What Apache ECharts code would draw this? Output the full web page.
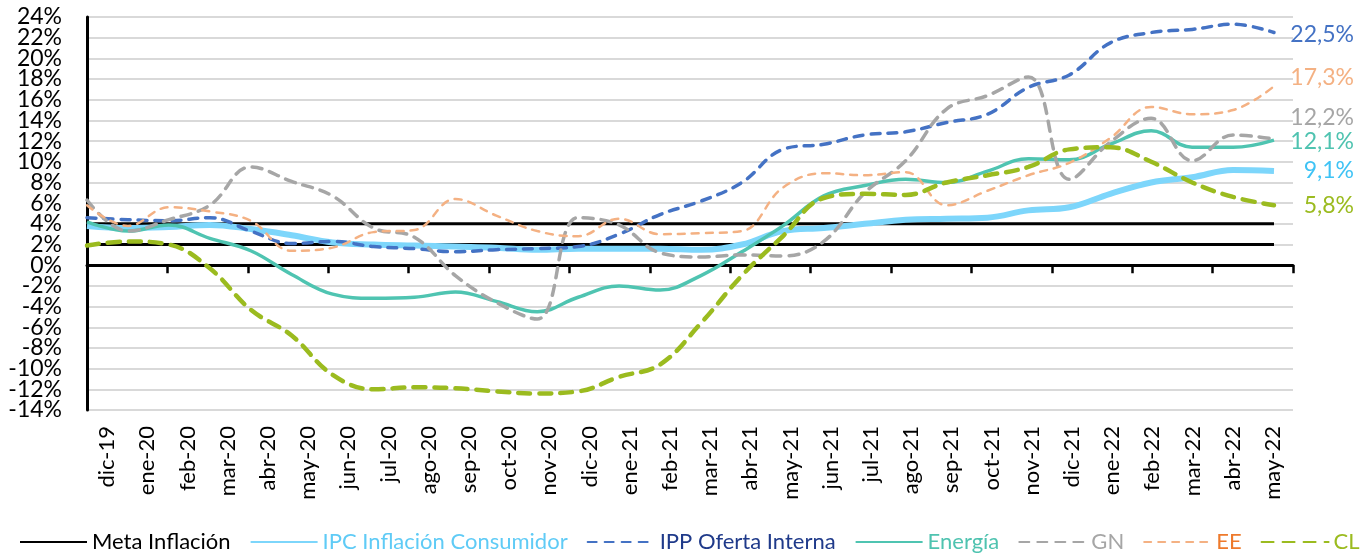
<!DOCTYPE html>
<html>
<head>
<meta charset="utf-8">
<script src="https://cdn.jsdelivr.net/npm/echarts@6/dist/echarts.min.js"></script>
<style>
  html, body { margin: 0; padding: 0; background: #fff; }
  #chart { width: 1371px; height: 553px; }
</style>
</head>
<body>
<div id="chart"></div>
<script>
var months = ['dic-19', 'ene-20', 'feb-20', 'mar-20', 'abr-20', 'may-20', 'jun-20', 'jul-20', 'ago-20', 'sep-20',
    'oct-20', 'nov-20', 'dic-20', 'ene-21', 'feb-21', 'mar-21', 'abr-21', 'may-21', 'jun-21', 'jul-21',
    'ago-21', 'sep-21', 'oct-21', 'nov-21', 'dic-21', 'ene-22', 'feb-22', 'mar-22', 'abr-22', 'may-22'];

// meta de inflación: banda 2% - 4%
var metaBaja = [2, 2, 2, 2, 2, 2, 2, 2, 2, 2, 2, 2, 2, 2, 2, 2, 2, 2, 2, 2, 2, 2, 2, 2, 2, 2, 2, 2, 2, 2];
var metaAlta = [4, 4, 4, 4, 4, 4, 4, 4, 4, 4, 4, 4, 4, 4, 4, 4, 4, 4, 4, 4, 4, 4, 4, 4, 4, 4, 4, 4, 4, 4];

var ipc = [3.8, 3.6, 3.7, 3.9, 3.5, 2.9, 2.2, 2.0, 1.9, 1.8, 1.7, 1.5, 1.6, 1.6, 1.6, 1.5, 2.0, 3.3, 3.6, 4.0,
    4.4, 4.5, 4.6, 5.3, 5.6, 6.9, 8.0, 8.5, 9.2, 9.1];
var ipp = [4.6, 4.4, 4.3, 4.6, 3.3, 2.1, 2.3, 1.8, 1.6, 1.3, 1.5, 1.6, 1.8, 3.0, 4.9, 6.2, 8.0, 11.2, 11.7, 12.6,
    12.9, 13.8, 14.6, 17.2, 18.4, 21.5, 22.5, 22.8, 23.3, 22.5];
var energia = [4.2, 3.3, 3.9, 2.6, 1.4, -0.9, -2.8, -3.2, -3.1, -2.6, -3.5, -4.5, -3.1, -2.0, -2.4, -1.0, 1.3, 3.8, 6.7, 7.7,
    8.3, 8.0, 9.1, 10.3, 10.2, 11.7, 13.0, 11.4, 11.4, 12.1];
var gn = [6.3, 3.3, 4.4, 5.8, 9.5, 8.1, 6.7, 3.6, 2.7, -1.0, -3.6, -5.2, 4.6, 3.9, 1.2, 0.8, 1.0, 0.9, 2.3, 7.0,
    10.1, 15.1, 16.4, 18.2, 8.3, 11.9, 14.2, 10.1, 12.6, 12.2];
var ee = [5.8, 3.8, 5.6, 5.2, 4.3, 1.4, 1.7, 3.2, 3.4, 6.4, 4.8, 3.3, 2.8, 4.5, 3.0, 3.1, 3.3, 7.5, 8.9, 8.7,
    9.0, 5.8, 7.2, 8.7, 9.9, 12.3, 15.3, 14.6, 15.0, 17.3];
var cl = [1.9, 2.3, 2.0, -0.3, -4.3, -6.8, -10.6, -12.0, -11.8, -11.9, -12.2, -12.4, -12.2, -10.8, -9.6, -5.6, -1.0, 2.8, 6.5, 6.9,
    6.8, 8.0, 8.7, 9.5, 11.2, 11.4, 10.0, 8.0, 6.6, 5.8];

// extremos del eje y, rotulados aparte para que no se oculten
var extremosY = [-14, 24];

var fuente = 'Lato';

function etiquetaFinal(color, dy) {
    return {
        show: true,
        formatter: function (p) { return p.value.toFixed(1).replace('.', ',') + '%'; },
        color: color,
        fontFamily: fuente,
        fontSize: 23,
        align: 'right',
        distance: 5,
        offset: [75, dy]
    };
}

function serie(nombre, datos, color, ancho, tipo, etiqueta) {
    return {
        name: nombre,
        type: 'line',
        xAxisIndex: 2,
        yAxisIndex: 1,
        data: datos,
        smooth: 0.4,
        symbol: 'none',
        lineStyle: { color: color, width: ancho, type: tipo, cap: tipo === 'solid' ? 'butt' : 'round' },
        itemStyle: { color: color },
        endLabel: etiqueta,
        emphasis: { disabled: true }
    };
}

var chart = echarts.init(document.getElementById('chart'));

var estiloEtiquetaY = { formatter: '{value}%', margin: 25, color: '#000', fontFamily: fuente, fontSize: 23 };

var option = {
    backgroundColor: '#fff',
    animation: false,
    textStyle: { fontFamily: fuente },
    grid: [
        { left: 87, right: 78, top: 17, bottom: 143 },
        { left: 87, right: 97, top: 17, bottom: 143 }
    ],
    legend: {
        left: 14,
        top: 526,
        itemWidth: 67,
        itemHeight: 14,
        itemGap: 19,
        itemStyle: { opacity: 0 },
        textStyle: { fontFamily: fuente, fontSize: 22 },
        data: [
            { name: 'Meta Inflación', textStyle: { color: '#000000' } },
            { name: 'IPC Inflación Consumidor', textStyle: { color: '#5fcbf6' } },
            { name: 'IPP Oferta Interna', textStyle: { color: '#1f3a8a' } },
            { name: 'Energía', textStyle: { color: '#4fc3b0' } },
            { name: 'GN', textStyle: { color: '#a6a6a6' } },
            { name: 'EE', textStyle: { color: '#ee7a2c' } },
            { name: 'CL', textStyle: { color: '#9bbb1f' } }
        ]
    },
    xAxis: [
        {
            gridIndex: 0,
            type: 'category',
            data: months,
            position: 'top',
            boundaryGap: true,
            axisLine: { onZero: true, lineStyle: { color: '#000', width: 3 } },
            axisTick: { show: true, inside: true, length: 8, lineStyle: { color: '#000', width: 2.5 } },
            axisLabel: { show: false },
            splitLine: { show: false }
        },
        {
            gridIndex: 0,
            type: 'category',
            data: months,
            position: 'bottom',
            boundaryGap: true,
            axisLine: { show: false, onZero: false },
            axisTick: { show: false },
            axisLabel: { rotate: 90, interval: 0, margin: 16, color: '#000', fontFamily: fuente, fontSize: 22 },
            splitLine: { show: false }
        },
        {
            gridIndex: 1,
            type: 'category',
            data: months,
            boundaryGap: false,
            show: false
        }
    ],
    yAxis: [
        {
            gridIndex: 0,
            type: 'value',
            position: 'left',
            min: -14,
            max: 24,
            interval: 2,
            axisLine: { show: true, lineStyle: { color: '#000', width: 3 } },
            axisTick: { show: false },
            axisLabel: Object.assign({ showMinLabel: false, showMaxLabel: false }, estiloEtiquetaY),
            splitLine: { show: true, lineStyle: { color: '#d9d9d9', width: 2 } }
        },
        {
            gridIndex: 1,
            type: 'value',
            position: 'left',
            min: -14,
            max: 24,
            interval: 2,
            axisLine: { show: false },
            axisTick: { show: false },
            axisLabel: Object.assign({ customValues: extremosY }, estiloEtiquetaY),
            splitLine: { show: false }
        }
    ],
    series: [
        serie('Meta Inflación', metaBaja, '#000000', 3, 'solid', null),
        serie('Meta Inflación', metaAlta, '#000000', 3, 'solid', null),
        serie('IPC Inflación Consumidor', ipc, '#7dd6fb', 6, 'solid', etiquetaFinal('#3fc3f5', -1)),
        serie('IPP Oferta Interna', ipp, '#4472c4', 3.5, [9, 8], etiquetaFinal('#4472c4', 2)),
        serie('Energía', energia, '#4fc4b1', 3.5, 'solid', etiquetaFinal('#4fc3b0', 2)),
        serie('GN', gn, '#a6a6a6', 3.5, [10, 8], etiquetaFinal('#a6a6a6', -21)),
        serie('EE', ee, '#f4b183', 2.5, [7, 7], etiquetaFinal('#f4b183', -9)),
        serie('CL', cl, '#9bbb1f', 4.5, [12, 9], etiquetaFinal('#9bbb1f', 0))
    ]
};

chart.setOption(option);
</script>
</body>
</html>
